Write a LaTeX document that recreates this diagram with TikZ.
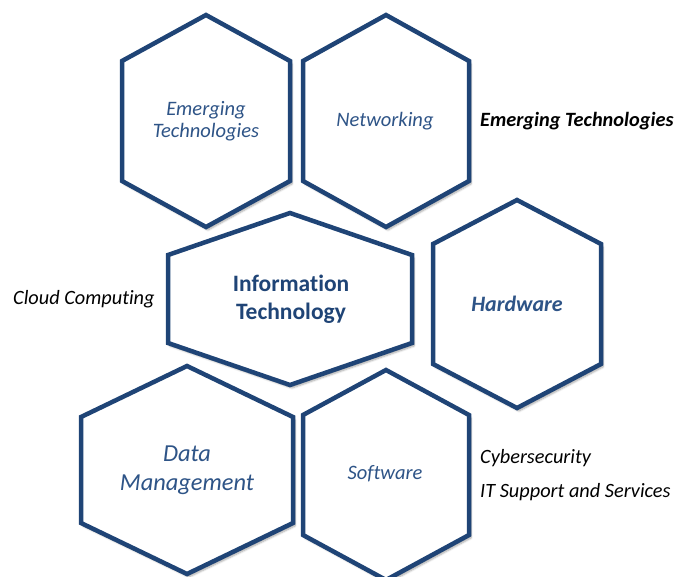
\documentclass[tikz,border=0pt]{standalone}
\usepackage{fontspec}
\setmainfont{Carlito}[Ligatures=NoCommon]
\usetikzlibrary{shadows.blur}
\definecolor{hexblue}{RGB}{31,68,118}
\definecolor{labblue}{RGB}{46,84,135}
\tikzset{
  hexline/.style={draw=hexblue,line width=4.5pt,fill=white,
    blur shadow={shadow xshift=2pt,shadow yshift=-3pt,shadow blur steps=6,shadow opacity=35}},
  hexlab/.style={text=labblue,font=\itshape\fontsize{20.5}{22}\selectfont,align=center,inner sep=0pt},
  sidelab/.style={anchor=base west,font=\itshape\fontsize{20.3}{24}\selectfont,inner sep=0pt}
}
\begin{document}
\begin{tikzpicture}[x=1pt,y=-1pt]
  \useasboundingbox (0,0) rectangle (675,577);
  % hexagons: centre x / centre y / half width / half side / half height
  \foreach \cx/\cy/\w/\s/\t in {206/121/84/60/106, 386/121/83/60/106, 290/299/122/44/86,
                                517/304/84/60/104, 187/470/106/53/104, 386/475/83/60/105}
    \draw[hexline] (\cx-\w,\cy-\s) -- (\cx,\cy-\t) -- (\cx+\w,\cy-\s)
      -- (\cx+\w,\cy+\s) -- (\cx,\cy+\t) -- (\cx-\w,\cy+\s) -- cycle;

  \node[hexlab] (emerg) at (206,121) {Emerging\\Technologies};
  \node[hexlab] (netw) at (385,121) {Networking};
  \node[hexlab,text=hexblue,font=\bfseries\fontsize{23.5}{28}\selectfont] (itech) at (291,299) {Information\\Technology};
  \node[hexlab,font=\bfseries\itshape\fontsize{22}{24}\selectfont] (hardw) at (517,304) {Hardware};
  \node[hexlab,font=\itshape\fontsize{24.4}{29}\selectfont] (datam) at (187,470) {Data\\Management};
  \node[hexlab] (softw) at (385,474) {Software};

  % labels beside the hexagons
  \node[sidelab,font=\bfseries\itshape\fontsize{20.3}{24}\selectfont] (emergside) at (480,127) {Emerging Technologies};
  \node[sidelab] (cloud) at (13,305) {Cloud Computing};
  \node[sidelab] (cyber) at (480,463) {Cybersecurity};
  \node[sidelab] (itsup) at (480,497) {IT Support and Services};
\end{tikzpicture}
\end{document}
